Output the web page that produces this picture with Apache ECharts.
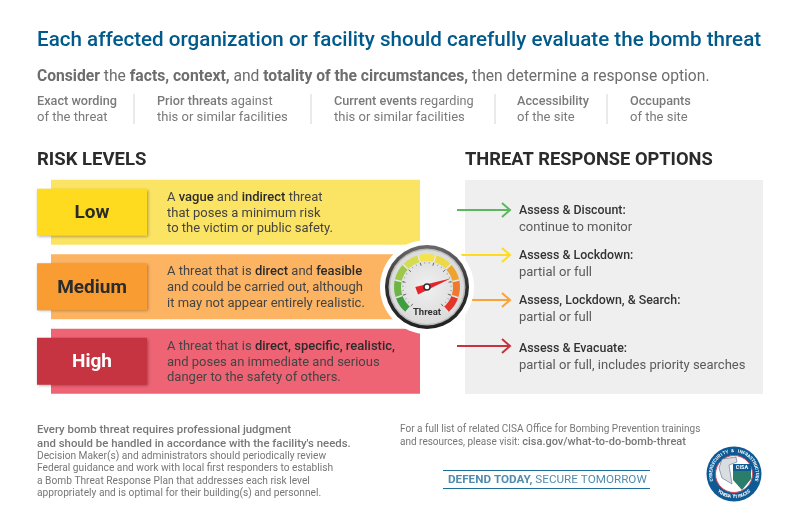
<!DOCTYPE html>
<html>
<head>
<meta charset="utf-8">
<title>Bomb threat risk levels</title>
<script src="https://cdn.jsdelivr.net/npm/echarts@6/dist/echarts.min.js"></script>
<style>
html, body { margin: 0; padding: 0; background: #fff; }
#chart { width: 800px; height: 518px; }
</style>
</head>
<body>
<div id="chart"></div>
<script>
var FONT = 'Roboto, "Liberation Sans", Arial, sans-serif';

// text and values
var levels = ["Low", "Medium", "High"];
var bandValues = [1, 1, 1];
var boxValues = [1, 1, 1];
var bandColors = ["#fbe364", "#fdb462", "#ef6474"];
var boxColors = ["#fedb1e", "#f99d33", "#c63341"];
var boxTextColors = ["#2b2b2b", "#2b2b2b", "#ffffff"];
var levelTexts = [
	"A {b|vague} and {b|indirect} threat\nthat poses a minimum risk\nto the victim or public safety.",
	"A threat that is {b|direct} and {b|feasible}\nand could be carried out, although\nit may not appear entirely realistic.",
	"A threat that is {b|direct, specific, realistic,}\nand poses an immediate and serious\ndanger to the safety of others."
];
var factorHeads = ["{b|Exact wording}", "{b|Prior threats} against", "{b|Current events} regarding", "{b|Accessibility}", "{b|Occupants}"];
var factorTails = ["of the threat", "this or similar facilities", "this or similar facilities", "of the site", "of the site"];
var optionHeads = ["Assess & Discount:", "Assess & Lockdown:", "Assess, Lockdown, & Search:", "Assess & Evacuate:"];
var optionTails = ["continue to monitor", "partial or full", "partial or full", "partial or full, includes priority searches"];
var arrowColors = ["#5cb85c", "#fedb1e", "#f9a338", "#c8323f"];
var footLeft = [
	"{b|Every bomb threat requires professional judgment}",
	"{b|and should be handled in accordance with the facility's needs.}",
	"Decision Maker(s) and administrators should periodically review",
	"Federal guidance and work with local first responders to establish",
	"a Bomb Threat Response Plan that addresses each risk level",
	"appropriately and is optimal for their building(s) and personnel."
];
var footRight = [
	"For a full list of related CISA Office for Bombing Prevention trainings",
	"and resources, please visit: {l|cisa.gov/what-to-do-bomb-threat}"
];
var gaugeValue = 75;
var gaugeName = "Threat";
var gaugeStops = [0.111, 0.222, 0.333, 0.444, 0.556, 0.667, 0.778, 0.889, 1];
var gaugeColors = ["#3f9e3f", "#6cb544", "#9cc84b", "#d6dc4f", "#f4e34c", "#ecd944", "#eda32f", "#ef7a2e", "#e2362b"];

// layout
var factorX = [37, 157, 334, 517, 630];
var factorSepX = [134, 311, 495, 607];
var optionY = [209, 254, 299, 347];
var arrowY = [210, 255, 300, 346];
var arrowStart = [457, 461, 472, 457];

function txt(x, y, text, size, color, extra) {
	var boldColor = (extra && extra.boldColor) || color;
	var boldWeight = (extra && extra.boldWeight) || 500;
	var el = {
		type: "text",
		z: 5,
		x: x,
		y: y + 1.5,	// roboto sits a little high with middle align
		style: {
			text: text,
			fontFamily: FONT,
			fontSize: size,
			fontWeight: (extra && extra.weight) || "normal",
			fill: color,
			align: (extra && extra.align) || "left",
			verticalAlign: "middle",
			rich: {
				b: { fontFamily: FONT, fontSize: size, fontWeight: boldWeight, color: boldColor },
				l: { fontFamily: FONT, fontSize: 11, fontWeight: 500, color: "#00598a" }
			}
		}
	};
	return el;
}

function buildGraphic() {
	var g = [];
	var i;
	g.push(txt(37, 39, "Each affected organization or facility should carefully evaluate the bomb threat", 20.6, "#005a8c", { weight: 500 }));
	g.push(txt(37, 76, "{b|Consider} the {b|facts, context,} and {b|totality of the circumstances,} then determine a response option.", 15.65, "#6d6d6d", { boldColor: "#555", boldWeight: "bold" }));
	for (i = 0; i < factorX.length; i++) {
		g.push(txt(factorX[i], 100, factorHeads[i], 12.7, "#7a7a7a", { boldColor: "#5f5f5f" }));
		g.push(txt(factorX[i], 116, factorTails[i], 13, "#7a7a7a"));
	}
	for (i = 0; i < factorSepX.length; i++) {
		g.push({ type: "line", z: 5, shape: { x1: factorSepX[i], y1: 94, x2: factorSepX[i], y2: 124 }, style: { stroke: "#d4d4d4", lineWidth: 1 } });
	}
	g.push(txt(37, 159, "RISK LEVELS", 18.5, "#2b2b2b", { weight: "bold" }));
	g.push(txt(465, 159, "THREAT RESPONSE OPTIONS", 18.3, "#2b2b2b", { weight: "bold" }));

	// response panel and arrows
	g.push({ type: "rect", z: 0, shape: { x: 465, y: 180, width: 298, height: 214 }, style: { fill: "#efefef" } });
	for (i = 0; i < optionHeads.length; i++) {
		g.push({ type: "line", z: 3, shape: { x1: arrowStart[i], y1: arrowY[i], x2: 510, y2: arrowY[i] }, style: { stroke: arrowColors[i], lineWidth: 2 } });
		g.push({ type: "polyline", z: 3, shape: { points: [[502, arrowY[i] - 7], [510, arrowY[i]], [502, arrowY[i] + 7]] }, style: { stroke: arrowColors[i], lineWidth: 2, fill: null } });
		g.push(txt(519, optionY[i], optionHeads[i], 12.4, "#333", { weight: 500 }));
		g.push(txt(519, optionY[i] + 17, optionTails[i], 13, "#5a5a5a"));
	}

	// gauge housing
	g.push({ type: "circle", z: 3, shape: { cx: 427, cy: 287, r: 47 }, style: { fill: "#ffffff" } });
	g.push({ type: "circle", z: 3, shape: { cx: 427, cy: 287, r: 42 }, style: { fill: new echarts.graphic.LinearGradient(0, 0, 0, 1, [{ offset: 0, color: "#6a6a6a" }, { offset: 0.5, color: "#2e2e2e" }, { offset: 1, color: "#222" }]) } });
	g.push({ type: "circle", z: 3, shape: { cx: 427, cy: 287, r: 38.5 }, style: { fill: "#b9b9b9" } });
	g.push({ type: "circle", z: 3, shape: { cx: 427, cy: 287, r: 37 }, style: { fill: new echarts.graphic.RadialGradient(0.5, 0.5, 0.7, [{ offset: 0, color: "#f0f0f0" }, { offset: 1, color: "#d2d2d2" }]) } });

	// footer
	for (i = 0; i < footLeft.length; i++) {
		var yLeft = [429, 443, 455, 467, 480, 492][i];
		g.push(txt(37, yLeft, footLeft[i], i < 2 ? 11.4 : 10.2, "#777", { boldColor: "#555" }));
	}
	g.push(txt(400, 428, footRight[0], 10, "#777"));
	g.push(txt(400, 441, footRight[1], 10, "#777"));
	g.push({ type: "line", z: 5, shape: { x1: 443, y1: 470.5, x2: 650, y2: 470.5 }, style: { stroke: "#1f6f9c", lineWidth: 1 } });
	g.push({ type: "line", z: 5, shape: { x1: 443, y1: 488.5, x2: 650, y2: 488.5 }, style: { stroke: "#1f6f9c", lineWidth: 1 } });
	g.push(txt(448, 479, "{b|DEFEND TODAY,} SECURE TOMORROW", 11.7, "#4f8db0", { boldColor: "#00598a", boldWeight: "bold" }));

	// seal
	g.push({ type: "circle", z: 5, shape: { cx: 734, cy: 474, r: 27.5 }, style: { fill: "#0e5a94" } });
	g.push({ type: "circle", z: 5, shape: { cx: 734, cy: 474, r: 18.5 }, style: { fill: "#fff", stroke: "#d9505f", lineWidth: 1 } });
	g.push({ type: "polygon", z: 5, shape: { points: [[733, 469], [751, 469], [751, 479], [742, 490], [733, 480]] }, style: { fill: "#2a7d6a" } });
	g.push({ type: "rect", z: 5, shape: { x: 733, y: 464, width: 18, height: 7 }, style: { fill: "#0e5a94" } });
	g.push({ type: "polygon", z: 5, shape: { points: [[722, 459], [736, 457], [737, 462], [729, 465], [732, 484], [722, 478], [719, 468]] }, style: { fill: "#d8dde2", stroke: "#33556f", lineWidth: 0.5 } });
	g.push({ type: "text", z: 6, x: 742, y: 467.5, style: { text: "CISA", fontFamily: FONT, fontSize: 5.5, fontWeight: "bold", fill: "#fff", align: "center", verticalAlign: "middle" } });
	var sealText = "CYBERSECURITY & INFRASTRUCTURE";
	for (i = 0; i < sealText.length; i++) {
		var a = (-105 + i * 210 / (sealText.length - 1)) * Math.PI / 180;
		g.push({ type: "text", z: 6, x: 734 + 23 * Math.sin(a), y: 474 - 23 * Math.cos(a), rotation: -a, style: { text: sealText.charAt(i), fontFamily: FONT, fontSize: 4.5, fontWeight: "bold", fill: "#fff", align: "center", verticalAlign: "middle" } });
	}
	var sealTail = "SECURITY AGENCY";
	for (i = 0; i < sealTail.length; i++) {
		var b = (40 - i * 80 / (sealTail.length - 1)) * Math.PI / 180;
		g.push({ type: "text", z: 6, x: 734 + 23 * Math.sin(b), y: 474 + 23 * Math.cos(b), rotation: b, style: { text: sealTail.charAt(i), fontFamily: FONT, fontSize: 4.5, fontWeight: "bold", fill: "#fff", align: "center", verticalAlign: "middle" } });
	}
	return g;
}

var myChart = echarts.init(document.getElementById("chart"), null, { renderer: "canvas" });

var option = {
	animation: false,
	backgroundColor: "#ffffff",
	textStyle: { fontFamily: FONT },
	grid: [
		{ left: 51, width: 369, top: 175, height: 223.5 },
		{ left: 37, width: 110, top: 175, height: 223.5 }
	],
	xAxis: [
		{ gridIndex: 0, type: "value", min: 0, max: 1, show: false },
		{ gridIndex: 1, type: "value", min: 0, max: 1, show: false }
	],
	yAxis: [
		{ gridIndex: 0, type: "category", inverse: true, data: levels, show: false },
		{ gridIndex: 1, type: "category", inverse: true, data: levels, show: false }
	],
	series: [
		{
			type: "bar",
			z: 1,
			xAxisIndex: 0,
			yAxisIndex: 0,
			barWidth: 65,
			data: bandValues.map(function (v, i) {
				return {
					value: v,
					itemStyle: { color: bandColors[i] },
					label: { formatter: levelTexts[i] }
				};
			}),
			label: {
				show: true,
				position: "insideLeft",
				distance: 116,
				offset: [0, 1],
				fontFamily: FONT,
				fontSize: 13,
				lineHeight: 15.6,
				color: "#444",
				rich: {
					b: { fontFamily: FONT, fontSize: 13, lineHeight: 15.6, fontWeight: 500, color: "#2b2b2b" }
				}
			}
		},
		{
			type: "bar",
			z: 2,
			xAxisIndex: 1,
			yAxisIndex: 1,
			barWidth: 47,
			data: boxValues.map(function (v, i) {
				return {
					value: v,
					itemStyle: {
						color: boxColors[i],
						shadowColor: "rgba(0,0,0,0.35)",
						shadowBlur: 3,
						shadowOffsetX: 1,
						shadowOffsetY: 1
					},
					label: { color: boxTextColors[i] }
				};
			}),
			label: {
				show: true,
				position: "inside",
				offset: [0, 1],
				formatter: "{b}",
				fontFamily: FONT,
				fontSize: 19,
				fontWeight: "bold"
			}
		},
		{
			type: "gauge",
			z: 4,
			center: [427, 287],
			radius: 33,
			startAngle: 230,
			endAngle: -50,
			min: 0,
			max: 100,
			splitNumber: 9,
			axisLine: {
				lineStyle: {
					width: 7,
					color: gaugeStops.map(function (s, i) {
						return [s, gaugeColors[i]];
					})
				}
			},
			splitLine: { distance: -7, length: 7, lineStyle: { color: "#e6e6e6", width: 1.5 } },
			axisTick: { show: false },
			axisLabel: { show: false },
			pointer: { show: false },
			title: { show: false },
			detail: { show: false },
			data: [{ value: gaugeValue }]
		},
		{
			type: "gauge",
			z: 4,
			center: [427, 287],
			radius: 25,
			startAngle: 230,
			endAngle: -50,
			min: 0,
			max: 100,
			splitNumber: 9,
			axisLine: { lineStyle: { width: 0, color: [[1, "transparent"]] } },
			splitLine: { distance: 0, length: 3, lineStyle: { color: "#555", width: 0.8 } },
			axisTick: { distance: 0, length: 1.5, splitNumber: 3, lineStyle: { color: "#777", width: 0.6 } },
			axisLabel: { show: false },
			pointer: {
				icon: "path://M50,0 L100,100 L0,100 Z",
				length: 36,
				width: 8,
				offsetCenter: [0, 11],
				itemStyle: { color: "#e5252a" }
			},
			anchor: { show: true, size: 6, showAbove: true, itemStyle: { color: "#fff", borderColor: "#333", borderWidth: 1.5 } },
			title: { show: true, offsetCenter: [0, 25.5], fontFamily: FONT, fontSize: 9.5, fontWeight: "bold", color: "#333" },
			detail: { show: false },
			data: [{ value: gaugeValue, name: gaugeName }]
		}
	],
	graphic: { elements: buildGraphic() }
};

myChart.setOption(option);
</script>
</body>
</html>
